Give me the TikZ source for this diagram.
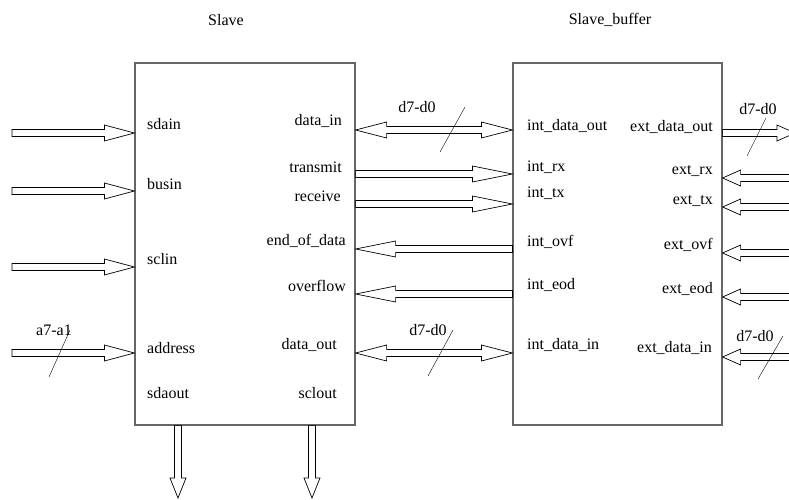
\documentclass[tikz,border=0pt]{standalone}
\usepackage{fontspec}
\setmainfont{Liberation Serif}
\usetikzlibrary{calc}

\tikzset{
  port/.style={font=\fontsize{16}{19}\selectfont, inner sep=0pt},
  block/.style={draw=black!60, line width=1.2pt},
  % hollow bus arrow, #1 = head length
  bus/.style={draw, line width=0.7pt, to path={
      ($(\tikztostart)!3.5pt!90:(\tikztotarget)$)
      -- ($(\tikztotarget)!#1!(\tikztostart)!3.5pt!90:(\tikztotarget)$)
      -- ($(\tikztotarget)!#1!(\tikztostart)!8pt!90:(\tikztotarget)$)
      -- (\tikztotarget)
      -- ($(\tikztotarget)!#1!(\tikztostart)!8pt!-90:(\tikztotarget)$)
      -- ($(\tikztotarget)!#1!(\tikztostart)!3.5pt!-90:(\tikztotarget)$)
      -- ($(\tikztostart)!3.5pt!-90:(\tikztotarget)$) -- cycle}},
  bus/.default=30pt,
  % hollow bus arrow with two heads
  busboth/.style={draw, line width=0.7pt, to path={
      (\tikztostart)
      -- ($(\tikztostart)!#1!(\tikztotarget)!8pt!-90:(\tikztostart)$)
      -- ($(\tikztostart)!#1!(\tikztotarget)!3.5pt!-90:(\tikztostart)$)
      -- ($(\tikztotarget)!#1!(\tikztostart)!3.5pt!90:(\tikztotarget)$)
      -- ($(\tikztotarget)!#1!(\tikztostart)!8pt!90:(\tikztotarget)$)
      -- (\tikztotarget)
      -- ($(\tikztotarget)!#1!(\tikztostart)!8pt!-90:(\tikztotarget)$)
      -- ($(\tikztotarget)!#1!(\tikztostart)!3.5pt!-90:(\tikztotarget)$)
      -- ($(\tikztostart)!#1!(\tikztotarget)!3.5pt!90:(\tikztostart)$)
      -- ($(\tikztostart)!#1!(\tikztotarget)!8pt!90:(\tikztostart)$)
      -- cycle}},
  busboth/.default=31pt
}

\begin{document}
\begin{tikzpicture}[x=1pt, y=-1pt]
\useasboundingbox (0,0) rectangle (789,500);

% blocks
\node[block, minimum width=220pt, minimum height=362pt] (slave) at (245,244) {};
\node[block, minimum width=209pt, minimum height=362pt] (buf) at (617.5,244) {};
\node[port] (tslave) at (226,20) {Slave};
\node[port] (tbuf) at (610,20) {Slave\_buffer};

% port labels
\foreach \n/\t/\y in {sdain/sdain/124, busin/busin/184, sclin/sclin/259, address/address/348, sdaout/sdaout/393}
  \node[port, anchor=west] (l\n) at (147,\y) {\t};
\foreach \n/\t/\x/\y in {din/data\_in/342/121, tx/transmit/342/167, rx/receive/341/196, eod/end\_of\_data/346/241, ovf/overflow/346/286, dout/data\_out/337/345, sclout/sclout/337/393}
  \node[port, anchor=east] (l\n) at (\x,\y) {\t};
\foreach \n/\t/\y in {idout/int\_data\_out/126, irx/int\_rx/167, itx/int\_tx/193, iovf/int\_ovf/242, ieod/int\_eod/285, idin/int\_data\_in/345}
  \node[port, anchor=west] (l\n) at (527,\y) {\t};
\foreach \n/\t/\x/\y in {edout/ext\_data\_out/713/127, erx/ext\_rx/713/171, etx/ext\_tx/713/201, eovf/ext\_ovf/713/245, eeod/ext\_eod/713/289, edin/ext\_data\_in/712/348}
  \node[port, anchor=east] (l\n) at (\x,\y) {\t};

% inputs of the slave
\foreach \n/\y in {sdain/133, busin/191, sclin/267, address/353} {
  \coordinate (s\n) at (12,\y);
  \coordinate (p\n) at (slave.west |- s\n);
  \draw[bus] (s\n) to (p\n);
}

% slave <-> slave_buffer
\foreach \n/\y in {din/130, dout/353} {
  \coordinate (a\n) at (slave.east |- 0,\y);
  \coordinate (b\n) at (buf.west |- 0,\y);
  \draw[busboth] (a\n) to (b\n);
}
\foreach \n/\y in {tx/174, rx/204} {
  \coordinate (a\n) at (slave.east |- 0,\y);
  \coordinate (b\n) at (buf.west |- 0,\y);
  \draw[bus=40pt] (a\n) to (b\n);
}
\foreach \n/\y in {eod/249, ovf/294} {
  \coordinate (a\n) at (slave.east |- 0,\y);
  \coordinate (b\n) at (buf.west |- 0,\y);
  \draw[bus=40pt] (b\n) to (a\n);
}

% outputs of the slave
\foreach \n/\x in {sdaout/178, sclout/312} {
  \coordinate (t\n) at (\x,498);
  \coordinate (p\n) at (t\n |- slave.south);
  \draw[bus=20pt] (p\n) to (t\n);
}

% external side of the buffer
\coordinate (qedout) at (buf.east |- 0,133);
\coordinate (xedout) at (795,133);
\draw[bus=18pt] (qedout) to (xedout);
\foreach \n/\y in {erx/178, etx/207, eovf/253, eeod/297, edin/357} {
  \coordinate (x\n) at (795,\y);
  \coordinate (q\n) at (buf.east |- x\n);
  \draw[bus=18pt] (x\n) to (q\n);
}

% bus widths
\draw (49,377) -- (70,330);
\node[port] (waddr) at (54,330) {a7-a1};
\draw (440,152) -- (465,107);
\node[port] (wdin) at (417,107) {d7-d0};
\draw (428,376) -- (453,330);
\node[port] (wdout) at (428,330) {d7-d0};
\draw (747,156) -- (766,118);
\node[port] (wedout) at (758,109) {d7-d0};
\draw (758,379) -- (783,336);
\node[port] (wedin) at (755,336) {d7-d0};
\end{tikzpicture}
\end{document}
